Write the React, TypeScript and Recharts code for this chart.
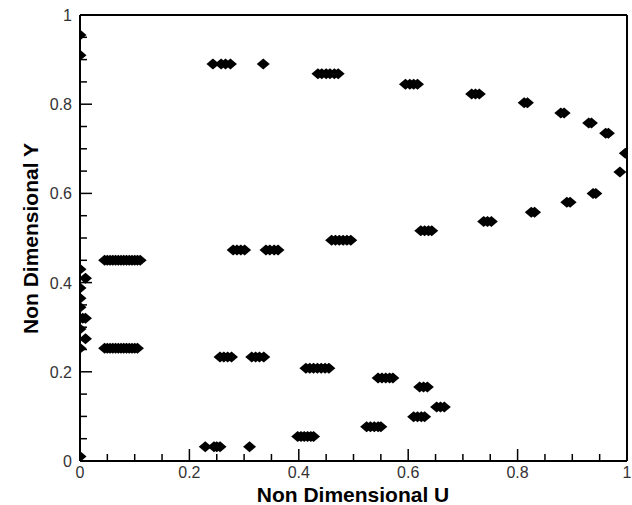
import React from "react";
import { ScatterChart, Scatter, XAxis, YAxis, ReferenceLine } from "recharts";

// Wall column (u near 0)
const wallU = [0, 0, 0, 0.01, 0, 0, 0, 0.005, 0.01, 0, 0.01, 0, 0];
const wallY = [0.955, 0.91, 0.43, 0.41, 0.388, 0.365, 0.345, 0.32, 0.32, 0.296, 0.274, 0.253, 0.01];

// Inner rows near the wall
const innerU = [
  0.045, 0.05, 0.055, 0.06, 0.065, 0.07, 0.075, 0.08, 0.085, 0.09, 0.095, 0.1, 0.105, 0.11,
  0.045, 0.05, 0.055, 0.06, 0.065, 0.07, 0.075, 0.08, 0.085, 0.09, 0.095, 0.1, 0.105,
];
const innerY = [
  0.45, 0.45, 0.45, 0.45, 0.45, 0.45, 0.45, 0.45, 0.45, 0.45, 0.45, 0.45, 0.45, 0.45,
  0.253, 0.253, 0.253, 0.253, 0.253, 0.253, 0.253, 0.253, 0.253, 0.253, 0.253, 0.253, 0.253,
];

// Upper branch
const upperU = [
  0.243, 0.258, 0.266, 0.275, 0.335,
  0.435, 0.442, 0.45, 0.457, 0.465, 0.472,
  0.595, 0.603, 0.61, 0.617,
  0.716, 0.723, 0.73,
  0.812, 0.818, 0.879, 0.885, 0.93, 0.935, 0.961, 0.966, 0.997,
];
const upperY = [
  0.89, 0.89, 0.89, 0.89, 0.89,
  0.868, 0.868, 0.868, 0.868, 0.868, 0.868,
  0.845, 0.845, 0.845, 0.845,
  0.823, 0.823, 0.823,
  0.803, 0.803, 0.78, 0.78, 0.758, 0.758, 0.735, 0.735, 0.69,
];

// Middle branch
const middleU = [
  0.987, 0.938, 0.943, 0.89, 0.896, 0.825, 0.831,
  0.738, 0.745, 0.752,
  0.623, 0.63, 0.637, 0.643,
  0.46, 0.467, 0.474, 0.481, 0.488, 0.495,
  0.28, 0.287, 0.294, 0.301, 0.34, 0.347, 0.355, 0.362,
];
const middleY = [
  0.648, 0.6, 0.6, 0.58, 0.58, 0.558, 0.558,
  0.537, 0.537, 0.537,
  0.516, 0.516, 0.516, 0.516,
  0.495, 0.495, 0.495, 0.495, 0.495, 0.495,
  0.473, 0.473, 0.473, 0.473, 0.473, 0.473, 0.473, 0.473,
];

// Lower structure
const lowerU = [
  0.256, 0.263, 0.27, 0.277, 0.314, 0.321, 0.328, 0.336,
  0.413, 0.42, 0.427, 0.434, 0.441, 0.448, 0.455,
  0.545, 0.552, 0.559, 0.566, 0.572,
  0.621, 0.628, 0.635,
  0.652, 0.659, 0.666,
  0.61, 0.617, 0.624, 0.63,
  0.524, 0.531, 0.538, 0.545, 0.55,
  0.398, 0.404, 0.41, 0.416, 0.422, 0.427,
  0.229, 0.245, 0.25, 0.256, 0.31,
];
const lowerY = [
  0.233, 0.233, 0.233, 0.233, 0.233, 0.233, 0.233, 0.233,
  0.208, 0.208, 0.208, 0.208, 0.208, 0.208, 0.208,
  0.186, 0.186, 0.186, 0.186, 0.186,
  0.166, 0.166, 0.166,
  0.121, 0.121, 0.121,
  0.099, 0.099, 0.099, 0.099,
  0.077, 0.077, 0.077, 0.077, 0.077,
  0.055, 0.055, 0.055, 0.055, 0.055, 0.055,
  0.032, 0.032, 0.032, 0.032, 0.032,
];

const axisTicks = [0, 0.05, 0.1, 0.15, 0.2, 0.25, 0.3, 0.35, 0.4, 0.45, 0.5, 0.55, 0.6, 0.65, 0.7, 0.75, 0.8, 0.85, 0.9, 0.95, 1];
const majorLabels: Record<string, string> = { "0": "0", "0.2": "0.2", "0.4": "0.4", "0.6": "0.6", "0.8": "0.8", "1": "1" };

const allU = [...wallU, ...innerU, ...upperU, ...middleU, ...lowerU];
const allY = [...wallY, ...innerY, ...upperY, ...middleY, ...lowerY];
const points = allU.map((u, i) => ({ u, y: allY[i] }));

const FONT = "'Liberation Sans', Arial, sans-serif";

const isMajor = (v: number) => Math.abs(v * 5 - Math.round(v * 5)) < 1e-6;
const labelOf = (v: number) => majorLabels[String(Math.round(v * 100) / 100)];

const XTick = (props: any) => {
  const { x, y, payload } = props;
  const v = payload.value as number;
  const major = isMajor(v);
  return (
    <g>
      <line x1={x} y1={y} x2={x} y2={y - (major ? 12 : 7)} stroke="#000" strokeWidth={1.5} />
      {major && (
        <text x={x} y={y + 17} textAnchor="middle" fontSize={16} fontFamily={FONT} fill="#333">
          {labelOf(v)}
        </text>
      )}
    </g>
  );
};

const YTick = (props: any) => {
  const { x, y, payload } = props;
  const v = payload.value as number;
  const major = isMajor(v);
  return (
    <g>
      <line x1={x} y1={y} x2={x + (major ? 12 : 7)} y2={y} stroke="#000" strokeWidth={1.5} />
      {major && (
        <text x={x - 8} y={y + 6} textAnchor="end" fontSize={16} fontFamily={FONT} fill="#333">
          {labelOf(v)}
        </text>
      )}
    </g>
  );
};

const Diamond = (props: any) => {
  const { cx, cy } = props;
  const w = 6.5;
  const h = 5.5;
  return <polygon points={`${cx - w},${cy} ${cx},${cy - h} ${cx + w},${cy} ${cx},${cy + h}`} fill="#000" />;
};

export default function App() {
  return (
    <div style={{ position: "absolute", left: 0, top: 0, width: 632, height: 505, background: "#fff" }}>
      <ScatterChart width={632} height={505} margin={{ top: 15, right: 5, bottom: 0, left: 0 }}>
        <XAxis
          type="number"
          dataKey="u"
          domain={[0, 1]}
          ticks={axisTicks}
          interval={0}
          allowDataOverflow
          height={44}
          tickSize={0}
          tickMargin={0}
          tickLine={false}
          axisLine={{ stroke: "#000", strokeWidth: 2 }}
          tick={<XTick />}
        />
        <YAxis
          type="number"
          dataKey="y"
          domain={[0, 1]}
          ticks={axisTicks}
          interval={0}
          allowDataOverflow
          width={80}
          tickSize={0}
          tickMargin={0}
          tickLine={false}
          axisLine={{ stroke: "#000", strokeWidth: 2 }}
          tick={<YTick />}
        />
        <ReferenceLine y={1} stroke="#000" strokeWidth={2} />
        <ReferenceLine x={1} stroke="#000" strokeWidth={2} />
        <Scatter data={points} shape={<Diamond />} isAnimationActive={false} />
      </ScatterChart>
      <div
        style={{
          position: "absolute",
          left: 203,
          top: 484,
          width: 300,
          height: 21,
          lineHeight: "21px",
          textAlign: "center",
          fontFamily: FONT,
          fontWeight: "bold",
          fontSize: 21,
          color: "#000",
        }}
      >
        Non Dimensional U
      </div>
      <div
        style={{
          position: "absolute",
          left: -120,
          top: 228,
          width: 300,
          height: 21,
          lineHeight: "21px",
          textAlign: "center",
          fontFamily: FONT,
          fontWeight: "bold",
          fontSize: 21,
          color: "#000",
          transform: "rotate(-90deg)",
        }}
      >
        Non Dimensional Y
      </div>
    </div>
  );
}
